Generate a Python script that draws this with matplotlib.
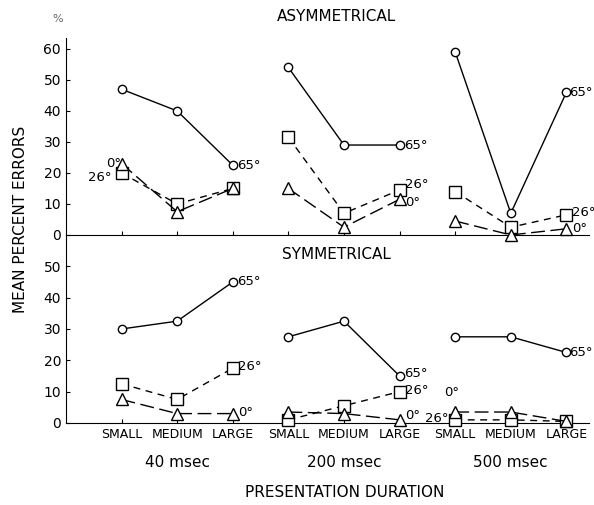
import numpy as np
import matplotlib.pyplot as plt

sizes = ['SMALL', 'MEDIUM', 'LARGE']
durations = ['40 msec', '200 msec', '500 msec']

# mean percent errors, one list of 3 values (small, medium, large) per duration
asym_65 = [[47, 40, 22.5], [54, 29, 29], [59, 7, 46]]
asym_26 = [[20, 10, 15], [31.5, 7, 14.5], [14, 2.5, 6.5]]
asym_0 = [[23, 7.5, 15], [15, 2.5, 11.5], [4.5, 0, 2]]

sym_65 = [[30, 32.5, 45], [27.5, 32.5, 15], [27.5, 27.5, 22.5]]
sym_26 = [[12.5, 7.5, 17.5], [1, 5.5, 10], [1, 1, 0.5]]
sym_0 = [[7.5, 3, 3], [3.5, 3, 1], [3.5, 3.5, 0.5]]

fig = plt.figure(figsize=(5.94, 5.05), dpi=100)
ax2 = fig.add_axes([0.111, 0.1624, 0.88, 0.3723])
ax1 = fig.add_axes([0.111, 0.5347, 0.88, 0.39])
ax1.patch.set_visible(False)
ax2.patch.set_visible(False)

styles = {
    '65': dict(ls='-', marker='o', ms=6),
    '26': dict(ls=(0, (5, 4)), marker='s', ms=8),
    '0': dict(ls=(0, (10, 4)), marker='^', ms=8),
}

def draw(ax, series):
    for key, data in series:
        st = styles[key]
        for g in range(3):
            x = np.arange(3) + 3 * g
            ax.plot(x, data[g], color='black', lw=1, linestyle=st['ls'],
                    marker=st['marker'], ms=st['ms'], mfc='white', mec='black',
                    mew=1, clip_on=False, zorder=3)
    ax.set_xlim(-1.0, 8.4)
    ax.spines['top'].set_visible(False)
    ax.spines['right'].set_visible(False)
    ax.tick_params(axis='y', direction='in', length=3, labelsize=10)
    ax.tick_params(axis='x', direction='in', length=3)
    ax.set_xticks(np.arange(9))

draw(ax1, [('65', asym_65), ('26', asym_26), ('0', asym_0)])
draw(ax2, [('65', sym_65), ('26', sym_26), ('0', sym_0)])

ax1.set_ylim(0, 63.5)
ax1.set_yticks([0, 10, 20, 30, 40, 50, 60])
ax1.set_xticklabels([])
ax2.set_ylim(0, 60)
ax2.set_yticks([0, 10, 20, 30, 40, 50])
ax2.set_xticklabels(sizes * 3, fontsize=9)

ax1.text(0.518, 1.11, 'ASYMMETRICAL', transform=ax1.transAxes, ha='center', va='center', fontsize=11)
ax2.text(0.518, 0.894, 'SYMMETRICAL', transform=ax2.transAxes, ha='center', va='center', fontsize=11)
ax1.text(-0.025, 1.08, '%', transform=ax1.transAxes, fontsize=8, color='0.4')

fs = 9.5
def lab(ax, text, x, y, dx, dy):
    ax.annotate(text, (x, y), xytext=(dx, dy), textcoords='offset points',
                fontsize=fs, va='center', ha='left')

# angle labels, asymmetrical
lab(ax1, '65°', 2, asym_65[0][2], 3, 0)
lab(ax1, '0°', 0, asym_0[0][0], -11, 0)
lab(ax1, '26°', 0, asym_26[0][0], -24, -3)
lab(ax1, '65°', 5, asym_65[1][2], 3, 0)
lab(ax1, '26°', 5, asym_26[1][2], 4, 4)
lab(ax1, '0°', 5, asym_0[1][2], 4, -2)
lab(ax1, '65°', 8, asym_65[2][2], 2, 0)
lab(ax1, '26°', 8, asym_26[2][2], 4, 2)
lab(ax1, '0°', 8, asym_0[2][2], 4, 0)

# angle labels, symmetrical
lab(ax2, '65°', 2, sym_65[0][2], 3, 0)
lab(ax2, '26°', 2, sym_26[0][2], 4, 1)
lab(ax2, '0°', 2, sym_0[0][2], 4, 1)
lab(ax2, '65°', 5, sym_65[1][2], 3, 2)
lab(ax2, '26°', 5, sym_26[1][2], 4, 1)
lab(ax2, '0°', 5, sym_0[1][2], 4, 3)
lab(ax2, '65°', 8, sym_65[2][2], 2, 0)
lab(ax2, '0°', 6, sym_0[2][0], -8, 14)
lab(ax2, '26°', 6, sym_26[2][0], -22, 1)

# duration labels under the size labels
for g, d in enumerate(durations):
    ax2.text(1 + 3 * g, -0.17, d, transform=ax2.get_xaxis_transform(), ha='center',
             va='top', fontsize=11)

fig.text(0.581, 0.025, 'PRESENTATION DURATION', ha='center', va='center', fontsize=11)
fig.text(0.035, 0.565, 'MEAN PERCENT ERRORS', rotation=90, ha='center', va='center', fontsize=11)

plt.savefig('out.png', dpi=100)
